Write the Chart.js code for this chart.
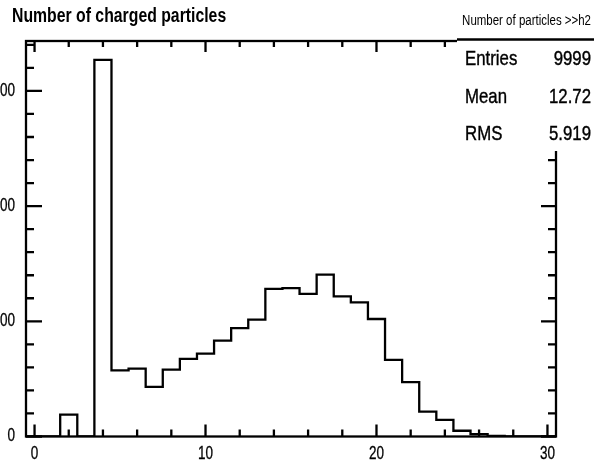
<!DOCTYPE html>
<html>
<head>
<meta charset="utf-8">
<script src="https://cdn.jsdelivr.net/npm/chart.js@4"></script>
<style>
  html, body { margin: 0; padding: 0; background: #fff; overflow: hidden; }
  #wrap { position: absolute; left: -40px; top: 0; width: 634px; height: 469px; }
</style>
</head>
<body>
<div id="wrap"><canvas id="hist" width="634" height="469"></canvas></div>
<script>
// number of charged particles, h2

const bins = [0, 1, 2, 3, 4, 5, 6, 7, 8, 9, 10, 11, 12, 13, 14, 15, 16, 17, 18, 19, 20,
    21, 22, 23, 24, 25, 26, 27, 28, 29, 30];
const counts = [0, 0, 95, 0, 1635, 287, 295, 215, 290, 337, 360, 416, 470, 507, 641, 644, 619,
    703, 608, 582, 510, 333, 236, 108, 72, 25, 10, 3, 0, 0, 0];

const xTicks = [0, 10, 20, 30];
const yTicks = [0, 500, 1000, 1500];

const statNames = ['Entries', 'Mean', 'RMS'];
const statValues = ['9999', '12.72', '5.919'];

const FONT = "'Liberation Sans', Arial, Helvetica, sans-serif";
const OFF = 40; // canvas is shifted left so the y labels get cut like the original

// histogram outline: one point at each bin's left edge, stepped
const points = bins.map((b, i) => ({ x: b - 0.5, y: counts[i] }));
points.push({ x: bins[bins.length - 1] + 0.5, y: 0 });

// helvetica-narrow look: squeeze the text horizontally
function narrowText(ctx, txt, x, y, align, sx, heavy) {
    ctx.save();
    ctx.translate(x, y);
    ctx.scale(sx, 1);
    ctx.textAlign = align;
    ctx.fillText(txt, 0, 0);
    if (heavy) {
        ctx.lineWidth = heavy;
        ctx.strokeStyle = ctx.fillStyle;
        ctx.strokeText(txt, 0, 0);
    }
    ctx.restore();
}

const rootFrame = {
    id: 'rootFrame',
    afterDraw(chart) {
        const ctx = chart.ctx;
        const { left, right, top, bottom } = chart.chartArea;
        const xs = chart.scales.x, ys = chart.scales.y;
        ctx.save();
        ctx.strokeStyle = '#000';
        ctx.lineWidth = 2.3;
        ctx.strokeRect(left, top, right - left, bottom - top);

        ctx.beginPath();
        for (let v = 0; v <= 30; v += 2) {
            const px = xs.getPixelForValue(v);
            const major = v % 10 === 0;
            ctx.moveTo(px, bottom); ctx.lineTo(px, bottom - (major ? 12 : 7));
            ctx.moveTo(px, top); ctx.lineTo(px, top + (major ? 11 : 6));
        }
        for (let v = 0; v <= ys.max; v += 100) {
            const py = ys.getPixelForValue(v);
            const major = v % 500 === 0;
            ctx.moveTo(left, py); ctx.lineTo(left + (major ? 16 : 8), py);
            ctx.moveTo(right, py); ctx.lineTo(right - (major ? 15 : 8), py);
        }
        ctx.stroke();

        // tick labels
        ctx.fillStyle = '#000';
        ctx.font = '18px ' + FONT;
        ctx.textBaseline = 'middle';
        xTicks.forEach(v => narrowText(ctx, String(v), xs.getPixelForValue(v), bottom + 18, 'center', 0.75, 0.3));
        yTicks.forEach(v => narrowText(ctx, String(v), left - 11, ys.getPixelForValue(v), 'right', 0.75, 0.3));

        // stats box
        ctx.fillStyle = '#fff';
        ctx.fillRect(457 + OFF, 0, 200, 151);
        ctx.beginPath();
        ctx.moveTo(457 + OFF, 39.5); ctx.lineTo(634, 39.5);
        ctx.stroke();

        ctx.fillStyle = '#000';
        ctx.textBaseline = 'alphabetic';
        ctx.font = '14px ' + FONT;
        narrowText(ctx, 'Number of particles >>h2', 591 + OFF, 25, 'right', 0.82);
        ctx.font = '21px ' + FONT;
        statNames.forEach((n, i) => {
            const by = 65 + i * 37.5;
            narrowText(ctx, n, 465 + OFF, by, 'left', 0.8, 0.4);
            narrowText(ctx, statValues[i], 591 + OFF, by, 'right', 0.8, 0.4);
        });

        // title
        ctx.font = 'bold 19.5px ' + FONT;
        narrowText(ctx, 'Number of charged particles', 12 + OFF, 22, 'left', 0.81);
        ctx.restore();
    }
};

const config = {
    type: 'line',
    data: {
        datasets: [{
            data: points,
            stepped: 'before',
            borderColor: '#000',
            borderWidth: 2.3,
            pointRadius: 0,
            fill: false
        }]
    },
    options: {
        responsive: false,
        animation: false,
        layout: { padding: { left: 0, right: 38, top: 41, bottom: 0 } },
        plugins: {
            legend: { display: false },
            tooltip: { enabled: false }
        },
        scales: {
            x: {
                type: 'linear',
                min: -0.5,
                max: 30.5,
                afterBuildTicks: s => { s.ticks = xTicks.map(v => ({ value: v })); },
                afterFit: s => { s.height = 32.5; },
                grid: { display: false },
                border: { display: false },
                ticks: { display: false }
            },
            y: {
                min: 0,
                max: Math.max(...counts) * 1.05,
                afterBuildTicks: s => { s.ticks = yTicks.map(v => ({ value: v })); },
                afterFit: s => { s.width = 66; },
                grid: { display: false },
                border: { display: false },
                ticks: { display: false }
            }
        }
    },
    plugins: [rootFrame]
};

var histChart = new Chart(document.getElementById('hist'), config);
</script>
</body>
</html>
